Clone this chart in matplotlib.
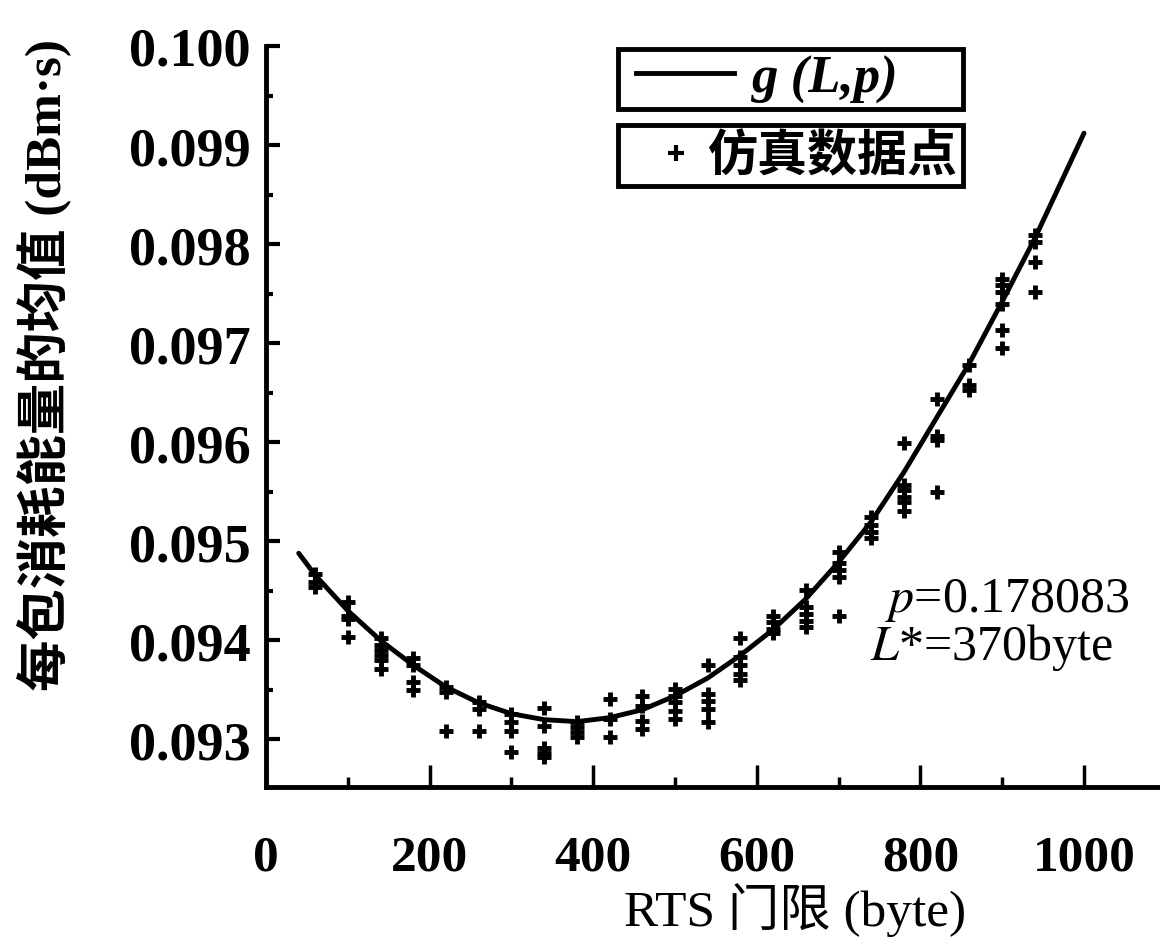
import matplotlib
matplotlib.use("Agg")
import matplotlib.pyplot as plt
from matplotlib.lines import Line2D
from matplotlib.patches import Rectangle

plt.rcParams['font.family'] = ['Liberation Serif', 'Noto Sans CJK SC']
plt.rcParams['mathtext.fontset'] = 'stix'

# fitted curve g(L,p)
curve_x = [40, 60, 100, 140, 180, 220, 260, 300, 340, 380, 420, 460, 500,
           540, 580, 620, 660, 700, 740, 780, 820, 860, 900, 940, 1000]
curve_y = [0.09488, 0.09466, 0.09430, 0.09400, 0.09375, 0.09353, 0.09337,
           0.09326, 0.09320, 0.09318, 0.09322, 0.09330, 0.09344, 0.09362,
           0.09385, 0.09411, 0.09442, 0.09479, 0.09520, 0.09570, 0.09625,
           0.09680, 0.09742, 0.09806, 0.09912]

# simulation points, grouped by RTS threshold
sim_x = [60, 100, 140, 180, 220, 260, 300, 340, 380, 420, 460, 500,
         540, 580, 620, 660, 700, 740, 780, 820, 860, 900, 940]
sim_y = [
    [0.09467, 0.09459, 0.09454],
    [0.09439, 0.09425, 0.09422, 0.09403],
    [0.09402, 0.09395, 0.09390, 0.09385, 0.09380, 0.09371],
    [0.09382, 0.09375, 0.09358, 0.09350],
    [0.09353, 0.09348, 0.09309],
    [0.09338, 0.09331, 0.09309],
    [0.09326, 0.09318, 0.09309, 0.09287],
    [0.09332, 0.09314, 0.09291, 0.09286, 0.09282],
    [0.09318, 0.09313, 0.09308, 0.09302],
    [0.09341, 0.09321, 0.09302],
    [0.09344, 0.09334, 0.09319, 0.09311],
    [0.09351, 0.09344, 0.09338, 0.09329, 0.09321],
    [0.09375, 0.09346, 0.09339, 0.09331, 0.09318],
    [0.09402, 0.09383, 0.09375, 0.09366, 0.09360],
    [0.09425, 0.09419, 0.09412, 0.09407],
    [0.09451, 0.09434, 0.09427, 0.09420, 0.09414],
    [0.09489, 0.09478, 0.09471, 0.09464, 0.09425],
    [0.09525, 0.09516, 0.09509, 0.09503],
    [0.09599, 0.09557, 0.09552, 0.09545, 0.09540, 0.09531],
    [0.09644, 0.09606, 0.09602, 0.09550],
    [0.09678, 0.09658, 0.09653],
    [0.09765, 0.09759, 0.09752, 0.09740, 0.09713, 0.09695],
    [0.09809, 0.09802, 0.09782, 0.09752],
]

x_ticks = [0, 200, 400, 600, 800, 1000]
y_ticks = [0.093, 0.094, 0.095, 0.096, 0.097, 0.098, 0.099, 0.100]
y_ticklabels = ['0.093', '0.094', '0.095', '0.096', '0.097', '0.098', '0.099', '0.100']

W, H = 1160, 953
fig = plt.figure(figsize=(11.6, 9.53), dpi=100)
ax = fig.add_axes([266 / W, 165 / H, 894 / W, 741 / H])

pts_x = []
pts_y = []
for x, ys in zip(sim_x, sim_y):
    for y in ys:
        pts_x.append(x)
        pts_y.append(y)

ax.plot(curve_x, curve_y, color='black', lw=3.5, solid_capstyle='round')
ax.plot(pts_x, pts_y, ls='none', marker='+', ms=10, mew=3.5, color='black')

ax.set_xlim(0, 894 / 0.818)
ax.set_ylim(0.093 - 47.5 / 99000, 0.1)

ax.spines['top'].set_visible(False)
ax.spines['right'].set_visible(False)
ax.spines['left'].set_linewidth(3.5)
ax.spines['bottom'].set_linewidth(3.5)

ax.set_xticks(x_ticks)
ax.set_xticks([100, 300, 500, 700, 900], minor=True)
ax.set_yticks(y_ticks)
ax.set_yticklabels(y_ticklabels)
ax.set_yticks([0.0935 + 0.001 * i for i in range(7)], minor=True)
ax.tick_params(axis='x', which='major', direction='in', length=16, width=2.5,
               pad=34, labelsize=37)
ax.tick_params(axis='x', which='minor', direction='in', length=7, width=2.5)
ax.tick_params(axis='y', which='major', direction='in', length=10, width=3,
               pad=11, labelsize=39)
ax.tick_params(axis='y', which='minor', direction='in', length=5, width=3)
for lab in ax.get_xticklabels() + ax.get_yticklabels():
    lab.set_fontweight('bold')

fig.text(45 / W, 1 - 365 / H, '每包消耗能量的均值 (dBm·s)', rotation=90,
         ha='center', va='center', fontsize=37, fontweight='bold')
fig.text(795 / W, 1 - 910 / H, 'RTS 门限 (byte)', ha='center', va='center',
         fontsize=37)

fig.text(885 / W, 1 - 600 / H, r'$p$=0.178083', ha='left', va='center', fontsize=36)
fig.text(870 / W, 1 - 648 / H, r'$L$*=370byte', ha='left', va='center', fontsize=36)

# two separate legend boxes
for top, bottom in [(50, 110), (126, 187)]:
    ax.add_patch(Rectangle((618 / W, 1 - bottom / H), 345 / W, (bottom - top) / H,
                           transform=fig.transFigure, fc='white', ec='black',
                           lw=3.5, zorder=4, clip_on=False))

h1 = Line2D([], [], color='black', lw=3.5)
h2 = Line2D([], [], ls='none', marker='+', ms=12, mew=3, color='black')
leg1 = ax.legend([h1], ['g (L,p)'], loc='center left',
                 bbox_to_anchor=(636 / W, 1 - 80 / H),
                 bbox_transform=fig.transFigure, borderaxespad=0, borderpad=0,
                 handlelength=1.85, handletextpad=0.35, frameon=False,
                 prop={'family': ['Liberation Serif'], 'style': 'italic',
                       'weight': 'bold', 'size': 38})
ax.add_artist(leg1)
leg2 = ax.legend([h2], ['仿真数据点'], loc='center left',
                 bbox_to_anchor=(655 / W, 1 - 157 / H),
                 bbox_transform=fig.transFigure, borderaxespad=0, borderpad=0,
                 handlelength=0.85, handletextpad=0.2, frameon=False,
                 prop={'family': ['Noto Sans CJK SC'], 'weight': 'bold', 'size': 36})

fig.savefig('out.png', dpi=100)
